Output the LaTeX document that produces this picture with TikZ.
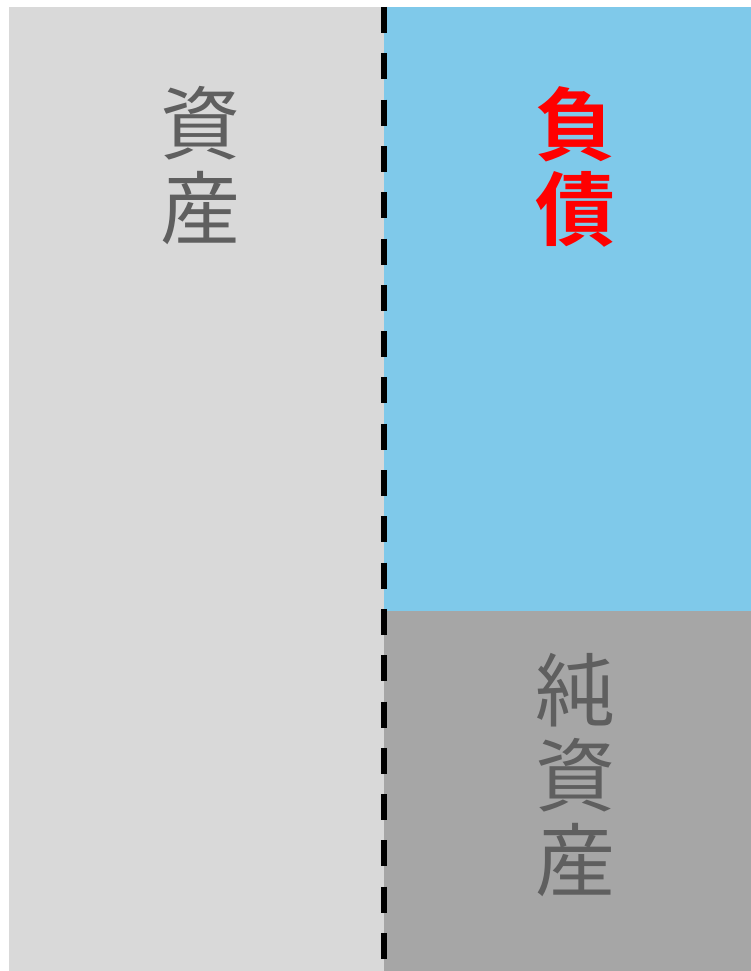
\documentclass[tikz,border=0pt]{standalone}
\usepackage{fontspec}
\newfontfamily\cjk{Noto Sans CJK JP}
\newfontfamily\cjkbold{Noto Sans CJK JP Bold}
\definecolor{lightgrey}{HTML}{D9D9D9}
\definecolor{skyblue}{HTML}{7FC9EA}
\definecolor{darkgrey}{HTML}{A6A6A6}
\definecolor{textgrey}{HTML}{5F5F5F}
\begin{document}
\begin{tikzpicture}[x=1pt,y=-1pt,
  label/.style={align=center, inner sep=0pt, font=\cjk\fontsize{80}{85}\selectfont, text=textgrey},
  boldlabel/.style={align=center, inner sep=0pt, font=\cjkbold\fontsize{80}{85}\selectfont, text=red},
  divider/.style={line width=6pt, dash pattern=on 26pt off 20.3pt}]
\useasboundingbox (0,0) rectangle (751,971);
\fill[white] (0,0) rectangle (751,971);
\fill[lightgrey] (9,7) rectangle (384,971);
\fill[skyblue] (384,7) rectangle (751,611);
\fill[darkgrey] (384,611) rectangle (751,971);
\node[label] (assets) at (200,166) {資\\産};
\node[boldlabel] (liab) at (575,167) {負\\債};
\node[label] (equity) at (575,775) {純\\資\\産};
\coordinate (dtop) at (384,7);
\coordinate (dbot) at (384,959);
\draw[divider] (dtop) -- (dbot);
\end{tikzpicture}
\end{document}
